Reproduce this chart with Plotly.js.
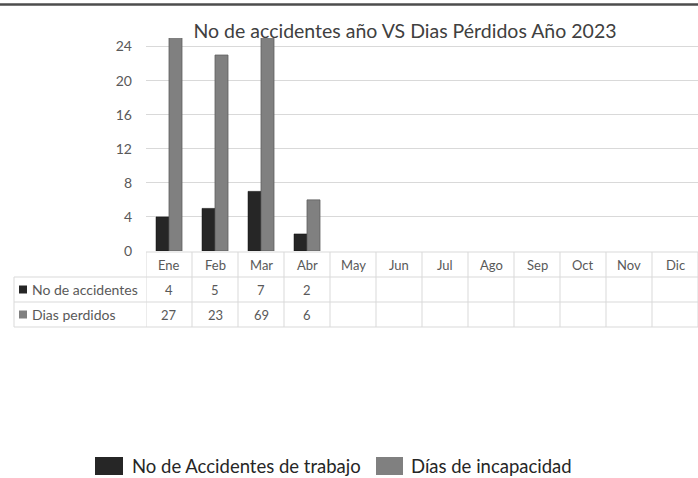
<!DOCTYPE html>
<html>
<head>
<meta charset="utf-8">
<script src="https://cdn.plot.ly/plotly-3.0.1.min.js"></script>
<style>html,body{margin:0;padding:0;background:#fff;}#chart{width:698px;height:478px;}</style>
</head>
<body>
<div id="chart"></div>
<script>
const months = ['Ene','Feb','Mar','Abr','May','Jun','Jul','Ago','Sep','Oct','Nov','Dic'];
const accidentes = [4, 5, 7, 2];
const diasPerdidos = [27, 23, 69, 6];
const rowLabels = ['No de accidentes', 'Dias perdidos'];
const legendLabels = ['No de Accidentes de trabajo', 'Días de incapacidad'];
const yTicks = [0, 4, 8, 12, 16, 20, 24];
const titleText = 'No de accidentes año VS Dias Pérdidos Año 2023';

const W = 698, H = 478, L = 146, R = 0, T = 38, B = 227;
const plotW = W - L - R, plotH = H - T - B;
const px = X => (X - L) / plotW;
const py = Y => (H - B - Y) / plotH;

const C_BLACK = '#262626', C_GRAY = '#808080', C_LINE = '#d9d9d9', C_TEXT = '#595959';
const FONT = 'Lato, "Open Sans", sans-serif';

const traces = [
  {type: 'bar', name: legendLabels[0], x: months.slice(0, accidentes.length), y: accidentes,
   marker: {color: C_BLACK, line: {color: '#111', width: 0.5}}, showlegend: false, hoverinfo: 'x+y'},
  {type: 'bar', name: legendLabels[1], x: months.slice(0, diasPerdidos.length), y: diasPerdidos,
   marker: {color: C_GRAY, line: {color: '#5e5e5e', width: 0.8}}, showlegend: false, hoverinfo: 'x+y'}
];

const shapes = [];
const annotations = [];
const rowTop = [252, 277, 302, 327];
// top decorative dark line
shapes.push({type: 'line', xref: 'paper', yref: 'paper', x0: px(0), x1: px(W), y0: py(4.5), y1: py(4.5),
  line: {color: '#4d4d4d', width: 2.5}});
// table horizontal lines
shapes.push({type: 'line', xref: 'x', yref: 'paper', x0: -0.5, x1: months.length - 0.5, y0: py(rowTop[0]), y1: py(rowTop[0]), line: {color: C_LINE, width: 1}});
for (let r = 1; r < rowTop.length; r++) {
  shapes.push({type: 'line', xref: 'paper', yref: 'paper', x0: px(14), x1: px(W), y0: py(rowTop[r]), y1: py(rowTop[r]), line: {color: C_LINE, width: 1}});
}
// vertical lines
shapes.push({type: 'line', xref: 'paper', yref: 'paper', x0: px(14), x1: px(14), y0: py(rowTop[1]), y1: py(rowTop[3]), line: {color: C_LINE, width: 1}});
for (let i = 0; i <= months.length; i++) {
  shapes.push({type: 'line', xref: 'x', yref: 'paper', x0: i - 0.5, x1: i - 0.5, y0: py(rowTop[0]), y1: py(rowTop[3]), line: {color: C_LINE, width: 1}});
}
// header month labels
months.forEach((m, i) => {
  annotations.push({xref: 'x', yref: 'paper', x: m, y: py((rowTop[0] + rowTop[1]) / 2), text: m, showarrow: false,
    xanchor: 'center', yanchor: 'middle', font: {family: FONT, size: 13, color: C_TEXT}});
});
// table rows
const rows = [accidentes, diasPerdidos];
const rowColors = [C_BLACK, C_GRAY];
rows.forEach((vals, r) => {
  const yc = (rowTop[r + 1] + rowTop[r + 2]) / 2;
  shapes.push({type: 'rect', xref: 'paper', yref: 'paper', x0: px(19), x1: px(27), y0: py(yc - 4), y1: py(yc + 4),
    fillcolor: rowColors[r], line: {width: 0}});
  annotations.push({xref: 'paper', yref: 'paper', x: px(30), y: py(yc), text: rowLabels[r], showarrow: false,
    xanchor: 'left', yanchor: 'middle', font: {family: FONT, size: 14, color: C_TEXT}});
  vals.forEach((v, i) => {
    annotations.push({xref: 'x', yref: 'paper', x: months[i], y: py(yc), text: String(v), showarrow: false,
      xanchor: 'center', yanchor: 'middle', font: {family: FONT, size: 13, color: C_TEXT}});
  });
});
// custom legend
const legendItems = [{x0: 95, x1: 123, tx: 130}, {x0: 376, x1: 403, tx: 409}];
legendItems.forEach((it, k) => {
  shapes.push({type: 'rect', xref: 'paper', yref: 'paper', x0: px(it.x0), x1: px(it.x1), y0: py(475), y1: py(457),
    fillcolor: rowColors[k], line: {width: 0}});
  annotations.push({xref: 'paper', yref: 'paper', x: px(it.tx), y: py(466), text: legendLabels[k], showarrow: false,
    xanchor: 'left', yanchor: 'middle', font: {family: FONT, size: 18.5, color: '#262626'}});
});

const layout = {
  width: W, height: H,
  margin: {l: L, r: R, t: T, b: B, pad: 0},
  paper_bgcolor: '#fff', plot_bgcolor: '#fff',
  title: {text: titleText, font: {family: FONT, size: 19.5, color: '#404040'},
    xref: 'paper', x: px(405), xanchor: 'center', yref: 'container', y: 1 - 31 / H, yanchor: 'middle'},
  barmode: 'group', bargap: 0.435, bargroupgap: 0,
  xaxis: {type: 'category', categoryorder: 'array', categoryarray: months, range: [-0.5, months.length - 0.5],
    showticklabels: false, showgrid: false, zeroline: false, showline: false, fixedrange: true},
  yaxis: {range: [0, 25], tickvals: yTicks, ticktext: yTicks.map(String), showgrid: true, gridcolor: C_LINE, gridwidth: 1,
    zeroline: false, showline: false, ticks: '', ticklabelstandoff: 13,
    tickfont: {family: FONT, size: 14, color: C_TEXT}, fixedrange: true},
  shapes: shapes, annotations: annotations, showlegend: false
};

Plotly.newPlot('chart', traces, layout, {displayModeBar: false, staticPlot: true});
</script>
</body>
</html>
